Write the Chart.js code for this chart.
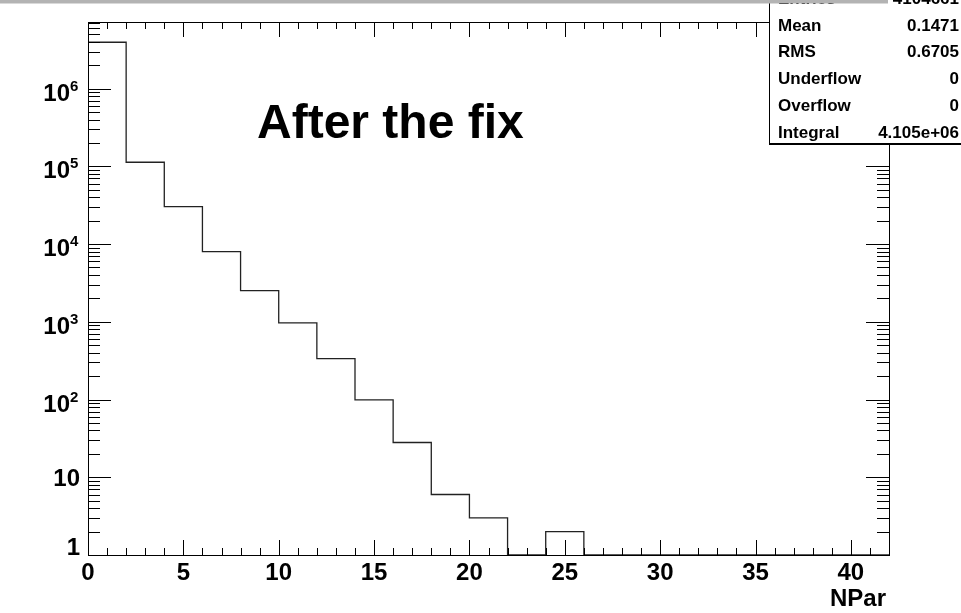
<!DOCTYPE html>
<html lang="en">
<head>
  <meta charset="UTF-8">
  <title>NPar - After the fix</title>
  <script src="https://cdn.jsdelivr.net/npm/chart.js"></script>
  <style>
    html, body { margin: 0; padding: 0; background: #fff; }
    #wrap { width: 961px; height: 613px; position: relative; }
  </style>
</head>
<body>
  <div id="wrap"><canvas id="nparChart"></canvas></div>

  <script>
    // histogram: lower bin edges and counts
    const binLow = [0, 2, 4, 6, 8, 10, 12, 14, 16, 18, 20, 22, 24, 26, 28, 30, 32, 34, 36, 38, 40];
    const counts = [3949300, 113000, 30400, 8000, 2520, 968, 336, 99, 28, 6, 3, 0, 2, 0, 0, 0, 0, 0, 0, 0, 0];
    const xRange = [0, 42];
    const yRange = [1, 7.2e6];

    const xTickLabels = [0, 5, 10, 15, 20, 25, 30, 35, 40];
    const yDecades = [0, 1, 2, 3, 4, 5, 6];

    const statNames = ["Entries", "Mean", "RMS", "Underflow", "Overflow", "Integral"];
    const statValues = ["4104661", "0.1471", "0.6705", "0", "0", "4.105e+06"];

    const FONT = "'Liberation Sans', Arial, Helvetica, sans-serif";

    // stepped outline, empty bins sit on the axis minimum
    const outline = [{ x: binLow[0], y: yRange[0] }];
    binLow.forEach((lo, i) => outline.push({ x: lo, y: Math.max(counts[i], yRange[0]) }));
    outline.push({ x: xRange[1], y: Math.max(counts[counts.length - 1], yRange[0]) });
    outline.push({ x: xRange[1], y: yRange[0] });

    const px = v => Math.round(v) + 0.5;

    const rootStyle = {
      id: "rootStyle",
      afterDraw(chart) {
        const ctx = chart.ctx;
        const a = chart.chartArea;
        const xs = chart.scales.x, ys = chart.scales.y;
        ctx.save();
        ctx.strokeStyle = "#000";
        ctx.fillStyle = "#000";
        ctx.lineWidth = 1;

        // frame
        ctx.strokeRect(px(a.left), px(a.top), Math.round(a.right - a.left), Math.round(a.bottom - a.top));

        // x ticks, bottom and top, inside the frame
        ctx.beginPath();
        for (let v = xRange[0] + 1; v < xRange[1]; v++) {
          const x = px(xs.getPixelForValue(v));
          const len = v % 5 === 0 ? 15 : 7;
          ctx.moveTo(x, a.bottom); ctx.lineTo(x, a.bottom - len);
          ctx.moveTo(x, a.top); ctx.lineTo(x, a.top + len);
        }
        // y ticks, left and right
        yDecades.forEach(d => {
          for (let m = 1; m <= 9; m++) {
            const v = m * Math.pow(10, d);
            if (v <= yRange[0] || v > yRange[1]) continue;
            const y = px(ys.getPixelForValue(v));
            const len = m === 1 ? 23 : 12;
            ctx.moveTo(a.left, y); ctx.lineTo(a.left + len, y);
            ctx.moveTo(a.right, y); ctx.lineTo(a.right - len, y);
          }
        });
        ctx.stroke();

        // x labels
        ctx.font = "bold 24px " + FONT;
        ctx.textAlign = "center";
        ctx.textBaseline = "alphabetic";
        xTickLabels.forEach(v => {
          ctx.fillText(String(v), xs.getPixelForValue(v), 580);
        });

        // y labels: 1, 10, then 10^n
        yDecades.forEach(d => {
          const y = ys.getPixelForValue(Math.pow(10, d));
          ctx.font = "bold 24px " + FONT;
          ctx.textAlign = "right";
          if (d === 0) { ctx.fillText("1", 80, y); return; }
          if (d === 1) { ctx.fillText("10", 80, y + 9); return; }
          ctx.fillText("10", 70, y + 12);
          ctx.font = "bold 15px " + FONT;
          ctx.textAlign = "left";
          ctx.fillText(String(d), 70, y + 2);
        });

        // axis title
        ctx.font = "bold 24px " + FONT;
        ctx.textAlign = "right";
        ctx.fillText("NPar", 886, 606);

        // title text
        ctx.font = "bold 48px " + FONT;
        ctx.textAlign = "left";
        ctx.fillText("After the fix", 257, 138);

        // stats box
        ctx.fillStyle = "#fff";
        ctx.fillRect(769, 0, 961 - 769, 144);
        ctx.beginPath();
        ctx.moveTo(px(769), 0); ctx.lineTo(px(769), 144);
        ctx.stroke();
        ctx.lineWidth = 2;
        ctx.beginPath();
        ctx.moveTo(769, 144); ctx.lineTo(961, 144);
        ctx.stroke();
        ctx.fillStyle = "#000";
        ctx.font = "bold 17px " + FONT;
        statNames.forEach((name, i) => {
          const base = 4 + i * 26.7;
          ctx.textAlign = "left";
          ctx.fillText(name, 778, base);
          ctx.textAlign = "right";
          ctx.fillText(statValues[i], 959, base);
        });

        // grey strip along the top
        ctx.fillStyle = "#b3b3b3";
        ctx.fillRect(0, 0, 888, 3.5);
        ctx.restore();
      }
    };

    new Chart(document.getElementById("nparChart"), {
      type: "line",
      data: {
        datasets: [{
          data: outline,
          stepped: true,
          borderColor: "#222",
          borderWidth: 1.3,
          pointRadius: 0,
          fill: false
        }]
      },
      options: {
        responsive: true,
        maintainAspectRatio: false,
        animation: false,
        layout: { padding: { left: 88, right: 72, top: 22, bottom: 58 } },
        plugins: { legend: { display: false }, tooltip: { enabled: false } },
        scales: {
          x: { type: "linear", min: xRange[0], max: xRange[1], bounds: "data", display: false },
          y: { type: "logarithmic", min: yRange[0], max: yRange[1], bounds: "data", display: false }
        }
      },
      plugins: [rootStyle]
    });
  </script>
</body>
</html>
